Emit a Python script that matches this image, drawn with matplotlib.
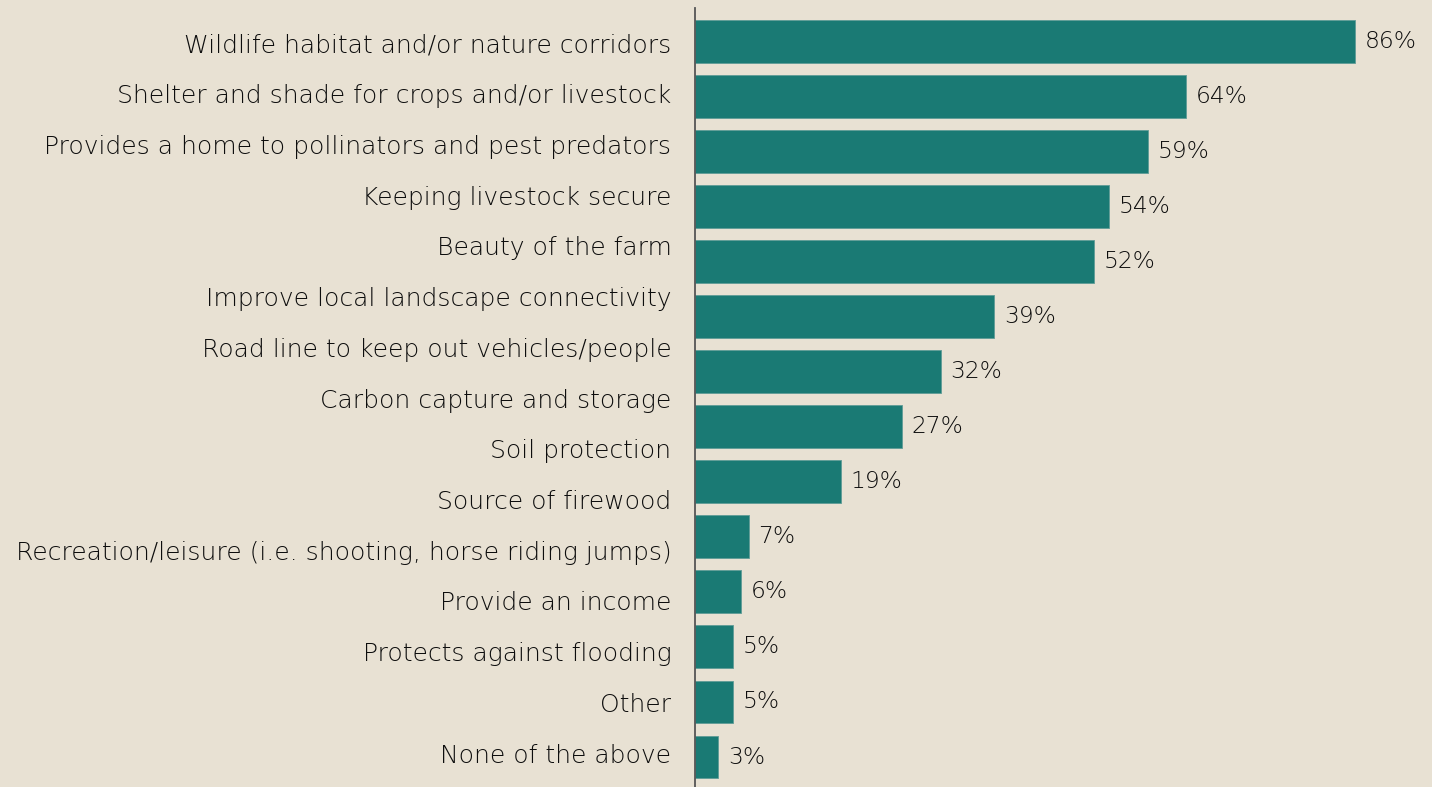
import matplotlib
matplotlib.use('Agg')
import matplotlib.pyplot as plt

# category labels (15 of them down the left side)
categories = [
    "Wildlife habitat and/or nature corridors",
    "Shelter and shade for crops and/or livestock",
    "Provides a home to pollinators and pest predators",
    "Keeping livestock secure",
    "Beauty of the farm",
    "Improve local landscape connectivity",
    "Road line to keep out vehicles/people",
    "Carbon capture and storage",
    "Soil protection",
    "Source of firewood",
    "Recreation/leisure (i.e. shooting, horse riding jumps)",
    "Provide an income",
    "Protects against flooding",
    "Other",
    "None of the above",
]
# bar values as drawn (14 bars)
values = [86, 64, 59, 54, 52, 39, 32, 27, 19, 7, 6, 5, 5, 3]

BG = '#e8e1d3'
BAR = '#1a7a74'
TXT = '#0d0d0d'
FONT = ['DejaVu Sans']

fig = plt.figure(figsize=(14.32, 7.87), dpi=100, facecolor=BG)
rect = [695 / 1432, 0, (1432 - 695) / 1432, 1 - 8 / 787]

# bars
ax = fig.add_axes(rect)
ax.set_facecolor('none')
ypos = list(range(len(values)))
ax.barh(ypos, values, height=0.78, color=BAR, edgecolor='#5f9c96', linewidth=0.6)
ax.set_xlim(0, 737 / 7.674)
ax.set_ylim(13.545, -0.609)
for y, v in zip(ypos, values):
    ax.annotate(f"{v}%", (v, y), xytext=(7, 0), textcoords='offset points',
                va='center', ha='left', fontsize=16.8, color=TXT, family=FONT,
                fontweight='light')
ax.set_xticks([])
ax.set_yticks([])
for s in ['top', 'right', 'bottom']:
    ax.spines[s].set_visible(False)
ax.spines['left'].set_color('#555555')
ax.spines['left'].set_linewidth(1.3)

# category labels on their own scale
axl = fig.add_axes(rect, sharex=ax)
axl.set_facecolor('none')
axl.set_ylim(14.67, -0.69)
axl.set_yticks(range(len(categories)))
axl.set_yticklabels(categories, fontsize=18, color=TXT, family=FONT,
                    fontweight='light')
axl.tick_params(axis='y', length=0, pad=17)
axl.tick_params(axis='x', bottom=False, labelbottom=False)
for s in axl.spines.values():
    s.set_visible(False)

fig.savefig('out.png', dpi=100, facecolor=BG)
